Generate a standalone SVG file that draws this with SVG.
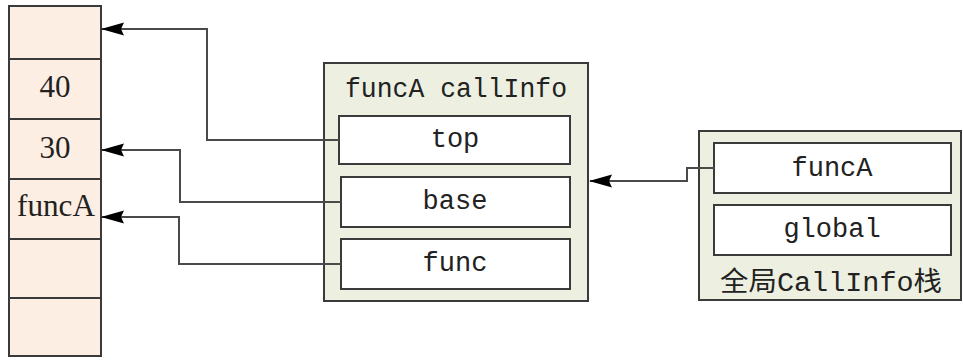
<svg xmlns="http://www.w3.org/2000/svg" width="963" height="362" viewBox="0 0 963 362">
  <style>
    .stack { fill: #fdeee3; stroke: #3a3a3a; stroke-width: 2; }
    .panel { fill: #edf0e0; stroke: #3a3a3a; stroke-width: 2; }
    .slot { fill: #ffffff; stroke: #3a3a3a; stroke-width: 2; }
    .serif { font-family: "Liberation Serif", "Times New Roman", serif; font-size: 31px; fill: #222; }
    .mono { font-family: "Liberation Mono", "Noto Sans CJK SC", monospace; font-size: 27px; fill: #222; }
    .link { fill: none; stroke: #4a4a4a; stroke-width: 2; }
  </style>
  <defs>
    <marker id="arrow" markerWidth="23" markerHeight="14" refX="22" refY="7" orient="auto" markerUnits="userSpaceOnUse">
      <path d="M0,0.5 L23,7 L0,13.5 L3,7 Z" fill="#000"/>
    </marker>
  </defs>
  <rect width="963" height="362" fill="#ffffff"/>

  <!-- value stack -->
  <g id="stack">
    <rect class="stack" x="9" y="6" width="92" height="350"/>
    <line class="stack" x1="9" y1="59" x2="101" y2="59"/>
    <line class="stack" x1="9" y1="119" x2="101" y2="119"/>
    <line class="stack" x1="9" y1="179" x2="101" y2="179"/>
    <line class="stack" x1="9" y1="239" x2="101" y2="239"/>
    <line class="stack" x1="9" y1="298" x2="101" y2="298"/>
    <text class="serif" x="55" y="97" text-anchor="middle">40</text>
    <text class="serif" x="55" y="158" text-anchor="middle">30</text>
    <text class="serif" x="56" y="216" text-anchor="middle" textLength="78" lengthAdjust="spacingAndGlyphs">funcA</text>
  </g>

  <!-- callInfo of funcA -->
  <g id="callinfo">
    <rect class="panel" x="324" y="63" width="264" height="238"/>
    <text class="mono" x="456" y="97" text-anchor="middle" textLength="222" lengthAdjust="spacingAndGlyphs">funcA callInfo</text>
    <rect class="slot" x="339" y="116" width="231" height="48"/>
    <text class="mono" x="455" y="147" text-anchor="middle">top</text>
    <rect class="slot" x="341" y="177" width="229" height="50"/>
    <text class="mono" x="455" y="209" text-anchor="middle">base</text>
    <rect class="slot" x="341" y="239" width="229" height="50"/>
    <text class="mono" x="455" y="271" text-anchor="middle">func</text>
  </g>

  <!-- global CallInfo stack -->
  <g id="callinfo-stack">
    <rect class="panel" x="699" y="131" width="262" height="169"/>
    <rect class="slot" x="714" y="143" width="237" height="50"/>
    <text class="mono" x="832" y="176" text-anchor="middle">funcA</text>
    <rect class="slot" x="714" y="205" width="237" height="50"/>
    <text class="mono" x="832" y="237" text-anchor="middle">global</text>
    <text class="mono" x="831" y="291" text-anchor="middle" textLength="222" lengthAdjust="spacingAndGlyphs">全局CallInfo栈</text>
  </g>

  <!-- pointers -->
  <g id="connectors">
    <polyline class="link" points="339,140 207,140 207,29 102,29" marker-end="url(#arrow)"/>
    <polyline class="link" points="341,202 180,202 180,150 102,150" marker-end="url(#arrow)"/>
    <polyline class="link" points="341,264 179,264 179,217 102,217" marker-end="url(#arrow)"/>
    <polyline class="link" points="714,168 687,168 687,181 590,181" marker-end="url(#arrow)"/>
  </g>
</svg>
